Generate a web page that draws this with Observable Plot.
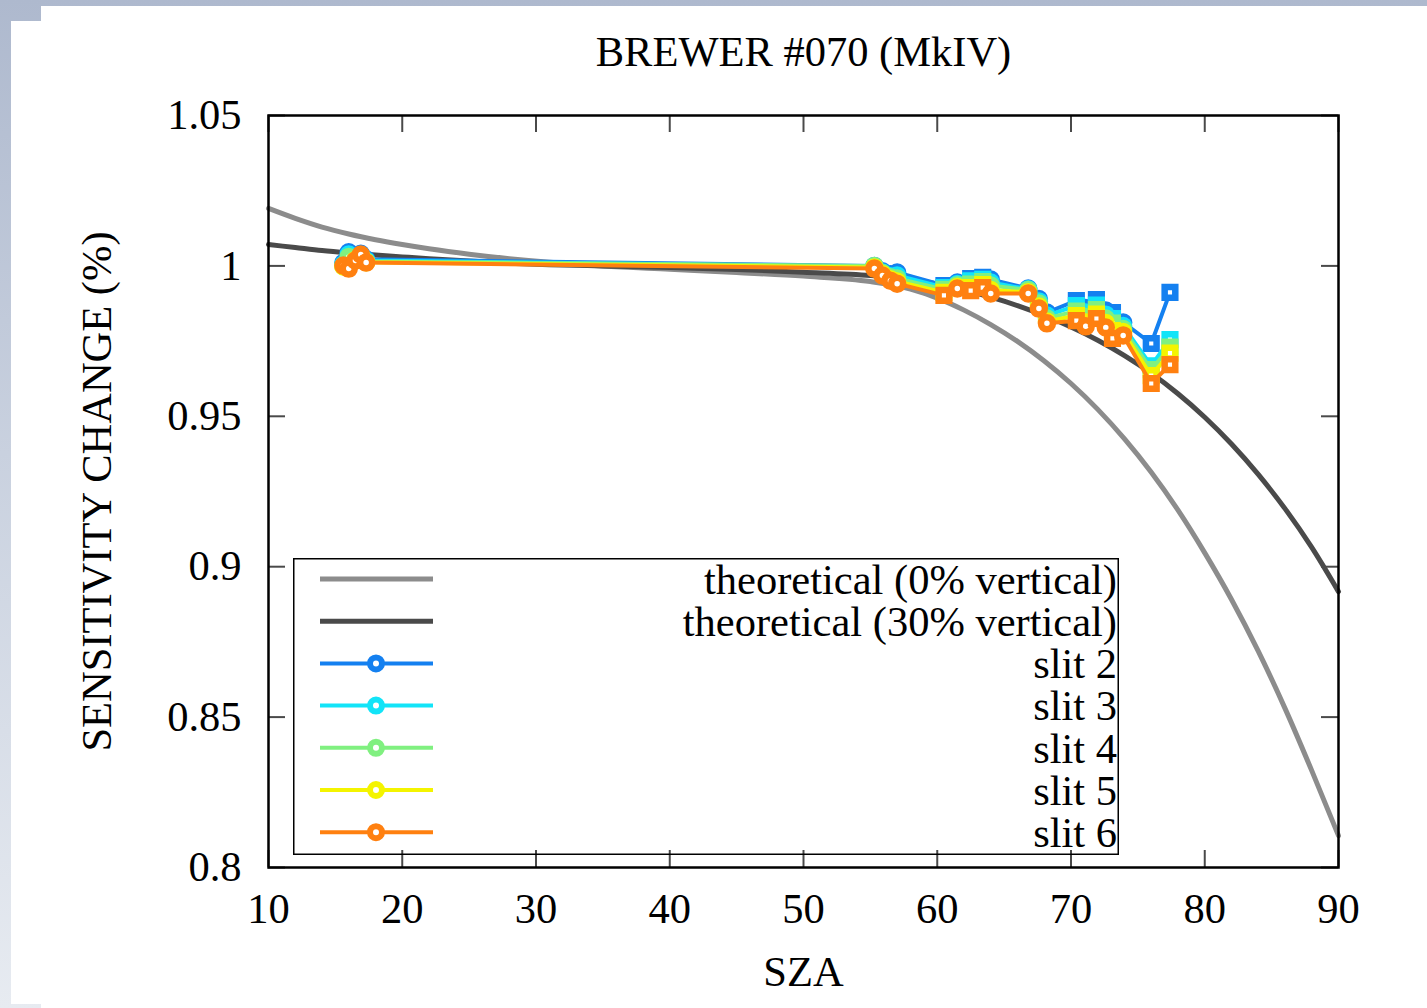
<!DOCTYPE html>
<html><head><meta charset="utf-8">
<script src="https://cdn.jsdelivr.net/npm/d3@7"></script>
<script src="https://cdn.jsdelivr.net/npm/@observablehq/plot@0.6"></script>
<style>
html,body{margin:0;padding:0;width:1427px;height:1008px;overflow:hidden;}
body{background:linear-gradient(180deg,#aeb9ce 0%,#c9d1df 45%,#e7ebf1 100%);position:relative;}
#card1{position:absolute;left:11px;top:21px;right:0;bottom:4px;background:#fff;}
#card2{position:absolute;left:41px;top:6px;right:0;bottom:0;background:#fff;}
#chart{position:absolute;left:0;top:0;}
#legend{position:absolute;left:293px;top:558px;width:860px;height:297px;}
</style></head>
<body>
<div id="card1"></div><div id="card2"></div>
<div id="chart"></div>
<div id="legend"></div>
<script>
// ---- data ----
const SZA_CURVE = [10,12,14,16,18,20,22,25,28,31,35,40,45,50,55,58,60,62,64,66,68,70,72,74,76,78,80,82,84,86,88,90];
const THEO_0 =    [1.0191,1.0158,1.0129,1.0106,1.0087,1.0071,1.0057,1.0039,1.0024,1.0012,1.0000,0.9989,0.9978,0.9966,0.9948,0.9923,0.9893,0.9853,0.9805,0.9749,0.9684,0.9609,0.9523,0.9425,0.9314,0.9188,0.9046,0.8891,0.8719,0.8529,0.8322,0.8106];
const THEO_30 =   [1.0071,1.0061,1.0051,1.0043,1.0036,1.0030,1.0024,1.0016,1.0009,1.0004,1.0000,0.9995,0.9988,0.9979,0.9968,0.9955,0.9940,0.9920,0.9896,0.9868,0.9835,0.9797,0.9753,0.9702,0.9643,0.9575,0.9497,0.9408,0.9307,0.9193,0.9064,0.8917];

const SZA   = [15.6,16.0,16.5,16.9,17.3,55.3,55.9,56.5,57.0,60.5,61.5,62.5,63.4,64.0,66.8,67.6,68.2,70.4,71.1,71.9,72.6,73.1,73.9,76.0,77.4];
const SHAPE = ["circle","circle","circle","circle","circle","circle","circle","circle","circle","square","circle","square","square","circle","circle","circle","circle","square","circle","square","circle","square","circle","square","square"];
const SLIT2 = [1.0010,1.0045,1.0030,1.0040,1.0022,1.0000,0.9982,0.9972,0.9978,0.9935,0.9945,0.9958,0.9962,0.9955,0.9925,0.9890,0.9845,0.9885,0.9860,0.9888,0.9852,0.9845,0.9812,0.9742,0.9912];
const SLIT3 = [1.0005,1.0038,1.0025,1.0035,1.0018,0.9998,0.9978,0.9966,0.9968,0.9928,0.9940,0.9950,0.9955,0.9945,0.9922,0.9882,0.9835,0.9868,0.9845,0.9870,0.9838,0.9825,0.9800,0.9668,0.9755];
const SLIT4 = [1.0000,1.0030,1.0022,1.0030,1.0015,1.0000,0.9976,0.9962,0.9958,0.9922,0.9936,0.9940,0.9948,0.9935,0.9920,0.9875,0.9825,0.9850,0.9830,0.9855,0.9825,0.9810,0.9790,0.9655,0.9730];
const SLIT5 = [0.9998,1.0000,1.0020,1.0035,1.0012,0.9995,0.9972,0.9956,0.9948,0.9912,0.9930,0.9928,0.9938,0.9920,0.9912,0.9865,0.9815,0.9835,0.9812,0.9840,0.9810,0.9785,0.9780,0.9635,0.9710];
const SLIT6 = [1.0001,0.9991,1.0018,1.0038,1.0011,0.9991,0.9968,0.9951,0.9941,0.9902,0.9925,0.9918,0.9928,0.9908,0.9908,0.9858,0.9809,0.9818,0.9799,0.9825,0.9795,0.9759,0.9769,0.9609,0.9672];

const SLIT_NAMES = ["slit 2","slit 3","slit 4","slit 5","slit 6"];
const SLIT_COLORS = ["#1480f0","#12e4f8","#80f080","#f4f400","#ff8010"];
const THEO_NAMES = ["theoretical (0% vertical)","theoretical (30% vertical)"];
const THEO_COLORS = ["#8c8c8c","#4a4a4a"];
const X_TICKS = [10,20,30,40,50,60,70,80,90];
const Y_TICKS = [0.8,0.85,0.9,0.95,1,1.05];
const TITLE = "BREWER #070 (MkIV)";
const X_LABEL = "SZA";
const Y_LABEL = "SENSITIVITY CHANGE (%)";

// ---- build ----
const FONT = "Liberation Serif, Times New Roman, serif";
const FS = 42.5;
const W = 1427, H = 1008, ML = 268, MR = 89, MT = 115, MB = 141;
const FW = W - ML - MR, FH = H - MT - MB, TL = 17;

const theo = SZA_CURVE.map((x, i) => ({x, v0: THEO_0[i], v30: THEO_30[i]}));
const series = [SLIT2, SLIT3, SLIT4, SLIT5, SLIT6].map(vals => SZA.map((x, i) => ({x, y: vals[i], shape: SHAPE[i]})));

const marks = [
  Plot.tickX(X_TICKS, {x: d => d, stroke: "#4a4a4a", strokeWidth: 2, insetTop: FH - TL}),
  Plot.tickX(X_TICKS, {x: d => d, stroke: "#4a4a4a", strokeWidth: 2, insetBottom: FH - TL}),
  Plot.tickY(Y_TICKS, {y: d => d, stroke: "#4a4a4a", strokeWidth: 2, insetRight: FW - TL}),
  Plot.tickY(Y_TICKS, {y: d => d, stroke: "#4a4a4a", strokeWidth: 2, insetLeft: FW - TL}),
  Plot.line(theo, {x: "x", y: "v0", stroke: THEO_COLORS[0], strokeWidth: 5, curve: "monotone-x"}),
  Plot.line(theo, {x: "x", y: "v30", stroke: THEO_COLORS[1], strokeWidth: 5, curve: "monotone-x"})
];
series.forEach((s, k) => {
  marks.push(Plot.line(s, {x: "x", y: "y", stroke: SLIT_COLORS[k], strokeWidth: 4}));
  marks.push(Plot.dot(s, {x: "x", y: "y", symbol: "shape", stroke: SLIT_COLORS[k], fill: "white", strokeWidth: 6.5, r: 6}));
});
marks.push(
  Plot.frame({stroke: "black", strokeWidth: 2.5}),
  Plot.axisX(X_TICKS, {anchor: "bottom", tickSize: 0, tickPadding: 25, fontSize: FS, label: null, tickFormat: d => String(d)}),
  Plot.axisY(Y_TICKS, {anchor: "left", tickSize: 0, tickPadding: 27, fontSize: FS, label: null, tickFormat: d3.format("~g")}),
  Plot.text([TITLE], {frameAnchor: "top", lineAnchor: "middle", textAnchor: "middle", dy: -63, fontSize: FS, fill: "black"}),
  Plot.text([X_LABEL], {frameAnchor: "bottom", lineAnchor: "middle", textAnchor: "middle", dy: 105, fontSize: FS, fill: "black"}),
  Plot.text([Y_LABEL], {frameAnchor: "left", lineAnchor: "middle", textAnchor: "middle", dx: -171, rotate: -90, fontSize: FS, fill: "black"})
);

const chart = Plot.plot({
  width: W, height: H,
  marginLeft: ML, marginRight: MR, marginTop: MT, marginBottom: MB,
  x: {domain: [10, 90]},
  y: {domain: [0.8, 1.05]},
  symbol: {domain: ["circle", "square"], range: ["circle", "square"]},
  style: {background: "transparent", fontFamily: FONT, fontSize: FS + "px", color: "black"},
  marks
});
document.getElementById("chart").appendChild(chart);

// ---- legend ----
const LW = 826, LH = 297;
const lsvg = d3.select("#legend").append("svg").attr("width", LW + 34).attr("height", LH).style("overflow", "visible");
lsvg.append("rect").attr("x", 0.75).attr("y", 0.75).attr("width", LW - 1.5).attr("height", LH - 1.5)
  .attr("fill", "none").attr("stroke", "black").attr("stroke-width", 1.5);
const entries = THEO_NAMES.map((n, i) => ({name: n, color: THEO_COLORS[i], w: 5, dot: false}))
  .concat(SLIT_NAMES.map((n, i) => ({name: n, color: SLIT_COLORS[i], w: 4, dot: true})));
entries.forEach((e, i) => {
  const y = 21 + i * 42.2;
  lsvg.append("line").attr("x1", 27).attr("x2", 140).attr("y1", y).attr("y2", y)
    .attr("stroke", e.color).attr("stroke-width", e.w);
  if (e.dot) lsvg.append("circle").attr("cx", 83).attr("cy", y).attr("r", 6)
    .attr("fill", "white").attr("stroke", e.color).attr("stroke-width", 6);
  lsvg.append("text").attr("x", 824).attr("y", y).attr("dy", "0.35em").attr("text-anchor", "end")
    .attr("font-family", FONT).attr("font-size", FS).attr("fill", "black").text(e.name);
});
</script>
</body></html>
